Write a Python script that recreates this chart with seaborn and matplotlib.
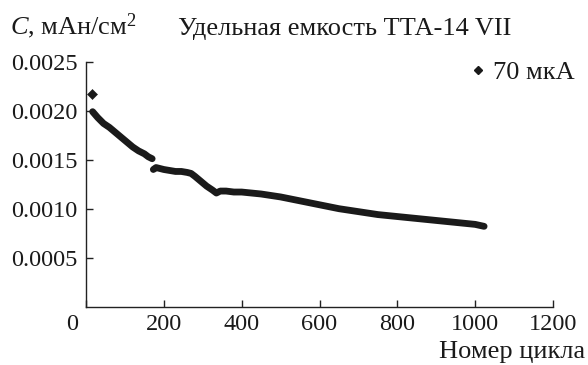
import matplotlib
matplotlib.use("Agg")
import matplotlib.pyplot as plt
import matplotlib.transforms as mtransforms
from matplotlib.lines import Line2D
import seaborn as sns
import pandas as pd

# ---- data ----
seg1_cycles = [17, 30, 45, 60, 75, 90, 105, 120, 135, 150, 160, 170]
seg1_cap = [0.00199, 0.00193, 0.00187, 0.00183, 0.00178, 0.00173, 0.00168,
            0.00163, 0.00159, 0.00156, 0.00153, 0.00151]
seg2_cycles = [173, 180, 190, 200, 215, 230, 245, 260, 270, 280, 295, 310, 325,
               335, 345, 360, 380, 400, 450, 500, 550, 600, 650, 700, 750, 800,
               850, 900, 950, 1000, 1023]
seg2_cap = [0.00140, 0.00142, 0.00141, 0.00140, 0.00139, 0.00138, 0.00138,
            0.00137, 0.00136, 0.00133, 0.00128, 0.00123, 0.00119, 0.00116,
            0.00118, 0.00118, 0.00117, 0.00117, 0.00115, 0.00112, 0.00108,
            0.00104, 0.00100, 0.00097, 0.00094, 0.00092, 0.00090, 0.00088,
            0.00086, 0.00084, 0.00082]
first_cycle = [15]
first_cap = [0.00217]

x_ticks = [0, 200, 400, 600, 800, 1000, 1200]
y_ticks = [0.0005, 0.0010, 0.0015, 0.0020, 0.0025]
y_ticklabels = ["0.0005", "0.0010", "0.0015", "0.0020", "0.0025"]
series_label = "70 мкА"
title = "Удельная емкость ТТА-14 VII"
ylabel = "$C$, мАн/см$^2$"
xlabel = "Номер цикла"

df = pd.DataFrame({
    "cycle": seg1_cycles + seg2_cycles,
    "cap": seg1_cap + seg2_cap,
    "seg": [1] * len(seg1_cycles) + [2] * len(seg2_cycles),
})
df_first = pd.DataFrame({"cycle": first_cycle, "cap": first_cap})

sns.set_theme(style="white")
plt.rcParams["font.family"] = ["Liberation Serif", "DejaVu Serif"]
plt.rcParams["mathtext.fontset"] = "custom"
plt.rcParams["mathtext.rm"] = "Liberation Serif"
plt.rcParams["mathtext.it"] = "Liberation Serif:italic"

FAM = ["Liberation Serif", "DejaVu Serif"]
INK = "#1a1a1a"
dpi = 100
fig = plt.figure(figsize=(5.88, 3.65), dpi=dpi)
ax = fig.add_axes([86 / 588, 58.3 / 365, 467 / 588, 245 / 365])

sns.lineplot(data=df, x="cycle", y="cap", units="seg", estimator=None,
             color=INK, linewidth=4.9, solid_capstyle="round", ax=ax,
             legend=False)
sns.scatterplot(data=df_first, x="cycle", y="cap", marker="D", s=26,
                color=INK, edgecolor=INK, ax=ax, legend=False)

ax.set_xlim(0, 1200)
ax.set_ylim(0, 0.0025)
ax.set_xticks(x_ticks)
ax.set_xticklabels([str(t) for t in x_ticks], fontfamily=FAM)
ax.set_yticks(y_ticks)
ax.set_yticklabels(y_ticklabels, fontfamily=FAM)
ax.set_xlabel("")
ax.set_ylabel("")

for s in ["top", "right"]:
    ax.spines[s].set_visible(False)
for s in ["left", "bottom"]:
    ax.spines[s].set_color("#222222")
    ax.spines[s].set_linewidth(1.0)

ax.tick_params(axis="both", direction="in", length=5, width=1.0,
               color="#222222", labelsize=17.5, labelcolor=INK)
ax.tick_params(axis="x", pad=5)
ax.tick_params(axis="y", pad=6)
ax.tick_params(left=True, bottom=True)

# shift the "0" x label left like the reference
lbl0 = ax.get_xticklabels()[0]
lbl0.set_transform(lbl0.get_transform() +
                   mtransforms.ScaledTranslation(-14 / dpi, 0, fig.dpi_scale_trans))

handle = Line2D([], [], linestyle="none", marker="D", markersize=4,
                color=INK)
leg = ax.legend([handle], [series_label], loc="upper right",
                bbox_to_anchor=(1.08, 1.07), frameon=False,
                prop={"family": FAM, "size": 19},
                handlelength=0.5, handletextpad=0.3, borderaxespad=0.2)
for t in leg.get_texts():
    t.set_color(INK)

fig.text(10 / 588, 1 - 34 / 365, ylabel, fontsize=19, ha="left",
         va="baseline", color=INK)
fig.text(345 / 588, 1 - 35 / 365, title, fontsize=19, ha="center",
         va="baseline", color=INK, fontfamily=FAM)
fig.text(585 / 588, 1 - 358 / 365, xlabel, fontsize=19, ha="right",
         va="baseline", color=INK, fontfamily=FAM)

fig.savefig("out.png", dpi=dpi)
